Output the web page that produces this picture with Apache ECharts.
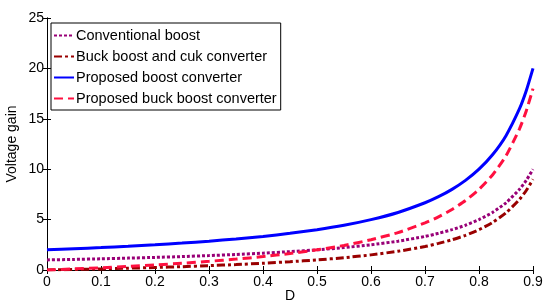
<!DOCTYPE html>
<html>
<head>
<meta charset="utf-8">
<script src="https://cdn.jsdelivr.net/npm/echarts@6/dist/echarts.min.js"></script>
<style>
  html, body { margin: 0; padding: 0; background: #fff; }
  #chart { width: 546px; height: 302px; }
</style>
</head>
<body>
<div id="chart"></div>
<script>
// duty cycle D
const dutyCycle = [0, 0.05, 0.1, 0.15, 0.2, 0.25, 0.3, 0.35, 0.4, 0.45, 0.5, 0.55, 0.6, 0.65, 0.7, 0.725, 0.75, 0.775, 0.8, 0.825, 0.85, 0.875, 0.8875, 0.9]

// voltage gain
const conventionalBoost = [1, 1.05, 1.11, 1.18, 1.25, 1.33, 1.43, 1.54, 1.67, 1.82, 2, 2.22, 2.5, 2.86, 3.33, 3.64, 4, 4.44, 5, 5.71, 6.67, 8, 8.89, 10]
const buckBoostCuk = [0, 0.05, 0.11, 0.18, 0.25, 0.33, 0.43, 0.54, 0.67, 0.82, 1, 1.22, 1.5, 1.86, 2.33, 2.64, 3, 3.44, 4, 4.71, 5.67, 7, 7.89, 9]
const proposedBoost = [2, 2.11, 2.22, 2.35, 2.5, 2.67, 2.86, 3.08, 3.33, 3.64, 4, 4.44, 5, 5.71, 6.67, 7.27, 8, 8.89, 10, 11.43, 13.33, 16, 17.78, 20]
const proposedBuckBoost = [0, 0.11, 0.22, 0.35, 0.5, 0.67, 0.86, 1.08, 1.33, 1.64, 2, 2.44, 3, 3.71, 4.67, 5.27, 6, 6.89, 8, 9.43, 11.33, 14, 15.78, 18]

const seriesNames = ['Conventional boost', 'Buck boost and cuk converter', 'Proposed boost converter', 'Proposed buck boost converter']

const pairs = arr => dutyCycle.map((d, i) => [d, arr[i]])

// 曲线样式
const makeLine = (name, data, color, type, width) => ({
  name,
  type: 'line',
  data: pairs(data),
  smooth: 0.2,
  symbol: 'none',
  lineStyle: { color, type, width },
  itemStyle: { color },
})

const font = 'Liberation Sans, Arial, sans-serif'

const chart = echarts.init(document.getElementById('chart'))

chart.setOption({
  animation: false,
  grid: { left: 47, right: 13, top: 18, bottom: 32, outerBoundsMode: 'none', containLabel: false },
  legend: {
    data: seriesNames,
    orient: 'vertical',
    left: 51,
    top: 23,
    itemWidth: 20,
    itemHeight: 10,
    itemGap: 6,
    padding: [5, 4, 4, 2],
    borderColor: '#000',
    borderWidth: 1,
    backgroundColor: '#fff',
    itemStyle: { opacity: 0 },
    textStyle: { fontFamily: font, fontSize: 14.5, color: '#000', padding: [0, 0, 0, -3] },
  },
  xAxis: [
    {
      type: 'value',
      min: 0,
      max: 0.9,
      interval: 0.1,
      name: 'D',
      nameLocation: 'middle',
      nameGap: 19,
      nameMoveOverlap: false,
      nameTextStyle: { fontFamily: font, fontSize: 14, color: '#000' },
      axisLine: { lineStyle: { color: '#000', width: 1 } },
      axisTick: { inside: true, length: 4, lineStyle: { color: '#000' } },
      axisLabel: { fontFamily: font, fontSize: 14, color: '#000', margin: 5 },
      splitLine: { show: false },
    },
    {
      type: 'value',
      position: 'top',
      min: 0,
      max: 0.9,
      interval: 0.1,
      axisLine: { lineStyle: { color: '#000', width: 1 } },
      axisTick: { inside: true, length: 4, lineStyle: { color: '#000' } },
      axisLabel: { show: false },
      splitLine: { show: false },
    },
  ],
  yAxis: [
    {
      type: 'value',
      min: 0,
      max: 25,
      interval: 5,
      name: 'Voltage gain',
      nameLocation: 'middle',
      nameGap: 28,
      nameMoveOverlap: false,
      nameTextStyle: { fontFamily: font, fontSize: 14, color: '#000' },
      axisLine: { show: true, lineStyle: { color: '#000', width: 1 } },
      axisTick: { show: true, inside: true, length: 4, lineStyle: { color: '#000' } },
      axisLabel: { fontFamily: font, fontSize: 14, color: '#000', margin: 3 },
      splitLine: { show: false },
    },
    {
      type: 'value',
      position: 'right',
      min: 0,
      max: 25,
      interval: 5,
      axisLine: { show: true, lineStyle: { color: '#000', width: 1 } },
      axisTick: { show: true, inside: true, length: 4, lineStyle: { color: '#000' } },
      axisLabel: { show: false },
      splitLine: { show: false },
    },
  ],
  series: [
    makeLine(seriesNames[0], conventionalBoost, '#990077', [3, 2], 3),
    makeLine(seriesNames[1], buckBoostCuk, '#990000', [8, 3, 3, 3], 3),
    makeLine(seriesNames[2], proposedBoost, '#0000ff', 'solid', 3),
    makeLine(seriesNames[3], proposedBuckBoost, '#ff1040', [9, 5], 3),
  ],
})
</script>
</body>
</html>
